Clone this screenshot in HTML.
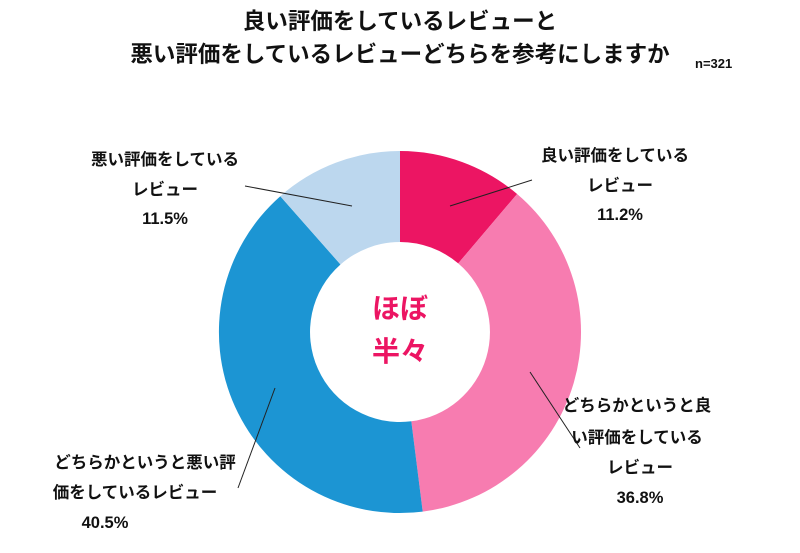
<!DOCTYPE html>
<html><head><meta charset="utf-8"><style>
html,body{margin:0;padding:0;background:#fff;}
svg{display:block;font-family:"Liberation Sans","Noto Sans CJK JP",sans-serif;font-weight:bold;}
</style></head><body>
<svg width="800" height="553" viewBox="0 0 800 553" xmlns="http://www.w3.org/2000/svg">
<rect width="800" height="553" fill="#fff"/>
<text x="400" y="29" font-size="22.5" text-anchor="middle" fill="#111">良い評価をしているレビューと</text>
<text x="400" y="62" font-size="22.5" text-anchor="middle" fill="#111">悪い評価をしているレビューどちらを参考にしますか</text>
<text x="695" y="68" font-size="13" fill="#111">n=321</text>
<path d="M400,151 A181,181 0 0 1 517.1,194 L458.2,263.4 A90,90 0 0 0 400,242 Z" fill="#EC1563"/>
<path d="M517.1,194 A181,181 0 0 1 422.7,511.6 L411.3,421.3 A90,90 0 0 0 458.2,263.4 Z" fill="#F77CB0"/>
<path d="M422.7,511.6 A181,181 0 0 1 280.3,196.2 L340.5,264.5 A90,90 0 0 0 411.3,421.3 Z" fill="#1C95D3"/>
<path d="M280.3,196.2 A181,181 0 0 1 400,151 L400,242 A90,90 0 0 0 340.5,264.5 Z" fill="#BCD7EE"/>
<text x="400" y="318" font-size="28" text-anchor="middle" fill="#EC1563">ほぼ</text>
<text x="400" y="361" font-size="28" text-anchor="middle" fill="#EC1563">半々</text>
<g stroke="#222" stroke-width="1" fill="none">
<line x1="245" y1="186" x2="352" y2="206"/>
<line x1="532" y1="180" x2="450" y2="206"/>
<line x1="530" y1="372" x2="580" y2="448"/>
<line x1="275" y1="388" x2="238" y2="488"/>
</g>
<g font-size="16.5" fill="#111" text-anchor="middle">
<text x="165" y="165">悪い評価をしている</text>
<text x="165" y="195">レビュー</text>
<text x="165" y="224">11.5%</text>
<text x="615" y="161">良い評価をしている</text>
<text x="620" y="191">レビュー</text>
<text x="620" y="220">11.2%</text>
<text x="637" y="411">どちらかというと良</text>
<text x="637" y="443">い評価をしている</text>
<text x="640" y="473">レビュー</text>
<text x="640" y="503">36.8%</text>
<text x="145" y="468">どちらかというと悪い評</text>
<text x="135" y="498">価をしているレビュー</text>
<text x="105" y="528">40.5%</text>
</g>
</svg>
</body></html>
